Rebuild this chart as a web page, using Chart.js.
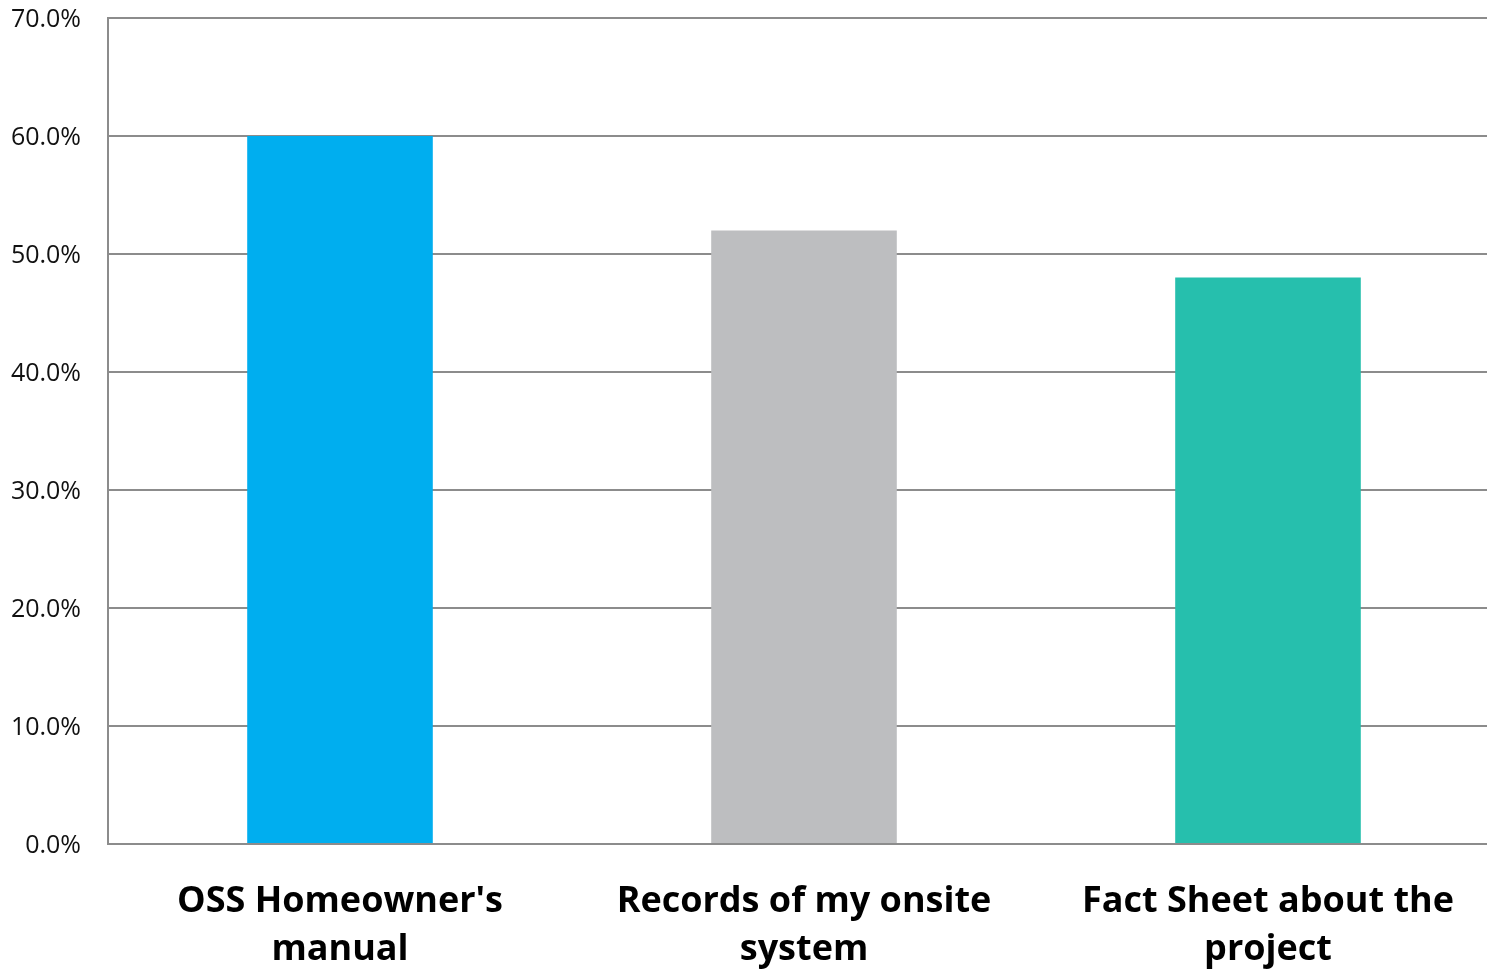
<!DOCTYPE html>
<html>
<head>
<meta charset="utf-8">
<script src="https://cdn.jsdelivr.net/npm/chart.js@4/dist/chart.umd.min.js"></script>
<style>
  html, body { margin: 0; padding: 0; background: #fff; overflow: hidden; }
  #wrap { width: 1500px; height: 970px; }
</style>
</head>
<body>
<div id="wrap"><canvas id="chart"></canvas></div>
<script>
// datos del gráfico
const categories = [
    ["OSS Homeowner's", "manual"],
    ["Records of my onsite", "system"],
    ["Fact Sheet about the", "project"]
];
const values = [60, 52, 48];
const barColors = ['#00AEEF', '#BDBEC0', '#26BFAD'];

const gridColor = '#8c8c8c';

new Chart(document.getElementById('chart'), {
    type: 'bar',
    data: {
        labels: categories,
        datasets: [{
            data: values,
            backgroundColor: barColors,
            borderWidth: 0,
            categoryPercentage: 1.0,
            barPercentage: 0.4
        }]
    },
    options: {
        responsive: true,
        maintainAspectRatio: false,
        animation: false,
        layout: { padding: { top: 18, right: 0, left: 0, bottom: 0 } },
        plugins: {
            legend: { display: false },
            tooltip: { enabled: false }
        },
        scales: {
            x: {
                grid: { display: false },
                border: { display: true, color: gridColor, width: 2 },
                ticks: {
                    color: '#000',
                    padding: 26,
                    maxRotation: 0,
                    font: { family: 'Open Sans', size: 36, weight: 'bold', lineHeight: 1.33 }
                },
                afterFit: (scale) => {
                    scale.height = 126;
                    scale.paddingLeft = 0;
                    scale.paddingRight = 0;
                }
            },
            y: {
                min: 0,
                max: 70,
                grid: { color: gridColor, lineWidth: 2, drawTicks: false },
                border: { display: true, color: gridColor, width: 2 },
                ticks: {
                    stepSize: 10,
                    color: '#111',
                    padding: 27,
                    labelOffset: 2,
                    font: { family: 'Open Sans', size: 25 },
                    callback: (v) => v.toFixed(1) + '%'
                },
                afterFit: (scale) => {
                    scale.width = 108;
                    scale.paddingTop = 0;
                    scale.paddingBottom = 0;
                }
            }
        }
    }
});
</script>
</body>
</html>
